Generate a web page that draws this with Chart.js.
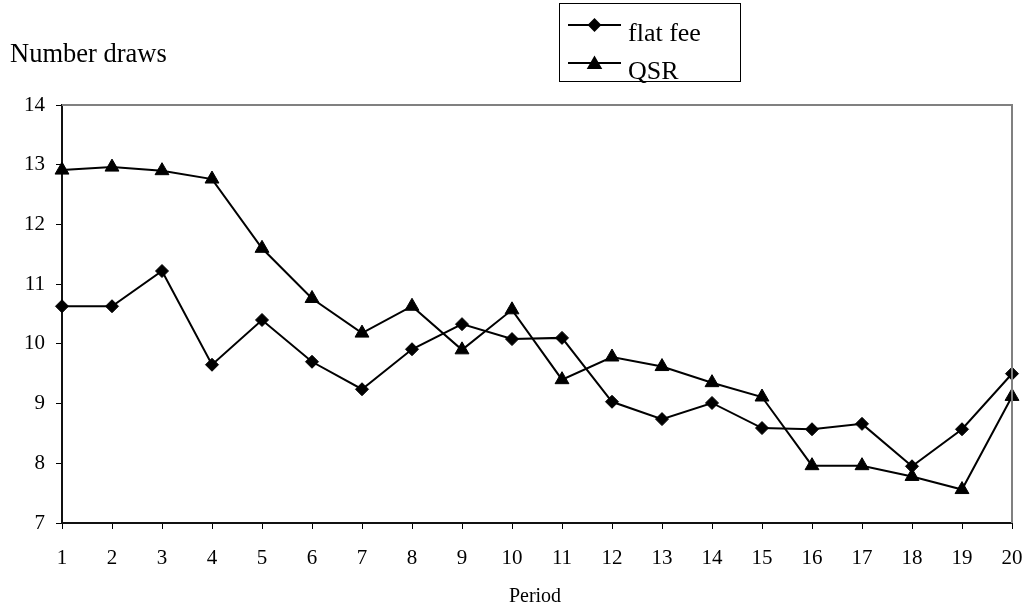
<!DOCTYPE html>
<html>
<head>
<meta charset="utf-8">
<script src="https://cdn.jsdelivr.net/npm/chart.js@4/dist/chart.umd.min.js"></script>
<style>
  body { margin: 0; background: #fff; }
  #wrap { width: 1026px; height: 610px; }
</style>
</head>
<body>
<div id="wrap"><canvas id="drawsChart" width="1026" height="610"></canvas></div>
<script>
var periods = ['1','2','3','4','5','6','7','8','9','10','11','12','13','14','15','16','17','18','19','20'];
var flatFee = [10.63, 10.63, 11.22, 9.65, 10.40, 9.70, 9.24, 9.91, 10.33, 10.08, 10.10, 9.03, 8.74, 9.01, 8.59, 8.57, 8.66, 7.95, 8.57, 9.50];
var qsr = [12.91, 12.96, 12.90, 12.76, 11.60, 10.76, 10.18, 10.63, 9.90, 10.57, 9.40, 9.78, 9.62, 9.35, 9.11, 7.96, 7.96, 7.78, 7.56, 9.12];
var yTicks = [7, 8, 9, 10, 11, 12, 13, 14];

var serif = "'Liberation Serif', 'Times New Roman', serif";

// frame, titles and the excel-like legend box
var decorPlugin = {
    id: 'decor',
    afterDraw: function (chart) {
        var ctx = chart.ctx;
        var area = chart.chartArea;
        ctx.save();
        // grey plot border top + right
        ctx.strokeStyle = '#808080';
        ctx.lineWidth = 2;
        ctx.beginPath();
        ctx.moveTo(area.left, area.top);
        ctx.lineTo(area.right, area.top);
        ctx.lineTo(area.right, area.bottom);
        ctx.stroke();

        ctx.fillStyle = '#000';
        ctx.font = '26.5px ' + serif;
        ctx.textBaseline = 'alphabetic';
        ctx.textAlign = 'left';
        ctx.fillText('Number draws', 10, 62);

        ctx.font = '20px ' + serif;
        ctx.textAlign = 'center';
        ctx.fillText('Period', 535, 602);

        // legend
        ctx.strokeStyle = '#000';
        ctx.lineWidth = 1;
        ctx.strokeRect(559.5, 3.5, 181, 78);
        var rows = [
            { y: 25, style: 'rectRot', r: 5.5 },
            { y: 63, style: 'triangle', r: 7 }
        ];
        ctx.font = '26px ' + serif;
        ctx.textAlign = 'left';
        chart.data.datasets.forEach(function (ds, i) {
            var row = rows[i];
            ctx.strokeStyle = '#000';
            ctx.lineWidth = 2;
            ctx.beginPath();
            ctx.moveTo(568, row.y);
            ctx.lineTo(621, row.y);
            ctx.stroke();
            ctx.fillStyle = '#000';
            Chart.helpers.drawPoint(ctx, { pointStyle: row.style, radius: row.r, borderWidth: 1 }, 594.5, row.style === 'triangle' ? row.y + 1.5 : row.y);
            ctx.fillStyle = '#000';
            ctx.fillText(ds.label, 628, row.y + 16);
        });
        ctx.restore();
    }
};

var chart = new Chart(document.querySelector('#drawsChart'), {
    type: 'line',
    data: {
        labels: periods,
        datasets: [{
            label: 'flat fee',
            data: flatFee,
            borderColor: '#000',
            borderWidth: 2,
            pointStyle: 'rectRot',
            pointRadius: 6.5,
            pointBackgroundColor: '#000',
            pointBorderColor: '#000',
            pointBorderWidth: 1,
            tension: 0,
            clip: false
        }, {
            label: 'QSR',
            data: qsr,
            borderColor: '#000',
            borderWidth: 2,
            pointStyle: 'triangle',
            pointRadius: 8,
            pointBackgroundColor: '#000',
            pointBorderColor: '#000',
            pointBorderWidth: 1,
            tension: 0,
            clip: false
        }]
    },
    options: {
        responsive: false,
        animation: false,
        events: [],
        devicePixelRatio: 1,
        layout: { padding: { left: 0, top: 105, right: 14, bottom: 0 } },
        plugins: {
            legend: { display: false },
            tooltip: { enabled: false },
            title: { display: false }
        },
        scales: {
            x: {
                type: 'category',
                offset: false,
                afterFit: function (scale) {
                    scale.height = 87;
                    scale.paddingLeft = 0;
                    scale.paddingRight = 0;
                },
                grid: { drawOnChartArea: false, color: '#000', tickLength: 6, lineWidth: 1 },
                border: { color: '#111', width: 2 },
                ticks: {
                    color: '#000',
                    font: { family: serif, size: 21 },
                    padding: 17,
                    maxRotation: 0,
                    autoSkip: false
                }
            },
            y: {
                min: 7,
                max: 14,
                afterFit: function (scale) {
                    scale.width = 62;
                    scale.paddingTop = 0;
                    scale.paddingBottom = 0;
                },
                afterBuildTicks: function (scale) {
                    scale.ticks = yTicks.map(function (v) { return { value: v }; });
                },
                grid: { drawOnChartArea: false, color: '#000', tickLength: 6, lineWidth: 1 },
                border: { color: '#111', width: 2 },
                ticks: {
                    color: '#000',
                    font: { family: serif, size: 21 },
                    padding: 11
                }
            }
        }
    },
    plugins: [decorPlugin]
});
</script>
</body>
</html>
